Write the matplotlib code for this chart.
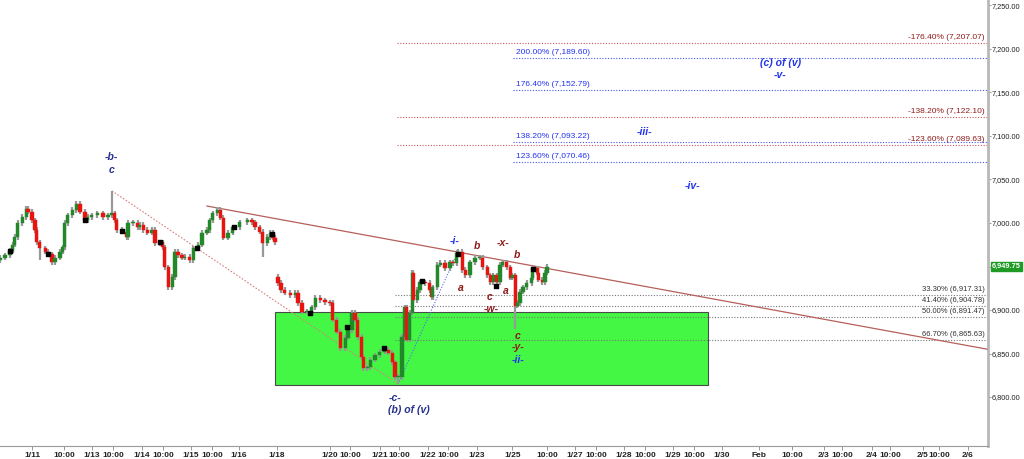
import matplotlib
matplotlib.use("Agg")
import matplotlib.pyplot as plt
from matplotlib.patches import Rectangle
import matplotlib.transforms as mtransforms

plt.rcParams['font.family'] = ['Liberation Sans', 'DejaVu Sans']

# price path, time in trading-session days (1/11 = 0)
t_a = [-0.65, -0.55, -0.45, -0.39, -0.35, -0.29, -0.20, -0.12, -0.08, 0.00, 0.06, 0.10, 0.16,
       0.27, 0.33, 0.41, 0.47, 0.57, 0.63, 0.67, 0.73, 0.82, 0.90, 0.98, 1.08, 1.14, 1.22,
       1.33, 1.45, 1.55, 1.63, 1.69, 1.73, 1.84, 1.94, 1.96, 2.06, 2.16, 2.20, 2.27, 2.35,
       2.45, 2.51, 2.61, 2.67, 2.71, 2.78, 2.86, 2.92, 2.98, 3.06, 3.12, 3.22, 3.29, 3.39,
       3.47, 3.57, 3.63, 3.69, 3.78, 3.84, 3.90, 4.00, 4.10, 4.24, 4.39, 4.49, 4.55, 4.65,
       4.71, 4.80, 4.86, 4.92, 4.96]
close_a = [6960, 6963, 6968, 6975, 6984, 7000, 7007, 7016, 7013, 7003, 6992, 6978, 6971,
           6967, 6964, 6955, 6960, 6967, 6972, 7000, 7009, 7015, 7022, 7013, 7003, 7007, 7009,
           7011, 7007, 7009, 7011, 7003, 6992, 6990, 6984, 7000, 7000, 6995, 6998, 6992, 6989,
           6992, 6977, 6978, 6972, 6949, 6926, 6938, 6967, 6963, 6960, 6961, 6957, 6971, 6975,
           6989, 6992, 7003, 7011, 7015, 7006, 6983, 6989, 6995, 7001, 7003, 7001, 6995, 6990,
           6977, 6984, 6989, 6983, 6978]
open_a = 6957

t_b = [5.02, 5.08, 5.16, 5.27, 5.37, 5.43, 5.51, 5.61, 5.71, 5.78, 5.88, 5.98, 6.08, 6.14,
       6.22, 6.29, 6.39, 6.45, 6.53, 6.59, 6.65, 6.73, 6.76, 6.84, 6.90, 7.00, 7.10, 7.20,
       7.27, 7.35, 7.41, 7.47, 7.55, 7.61, 7.65, 7.71, 7.76, 7.78, 7.86, 7.92, 8.02, 8.12,
       8.16, 8.18, 8.27, 8.33, 8.43, 8.53, 8.59, 8.67, 8.69, 8.78, 8.84, 8.94, 9.04, 9.14,
       9.20, 9.29, 9.35, 9.41, 9.49, 9.55, 9.61, 9.69, 9.76, 9.80, 9.86, 9.90, 9.96, 10.02,
       10.10, 10.20, 10.22, 10.31, 10.33, 10.41, 10.47, 10.51]
close_b = [6931, 6923, 6920, 6917, 6920, 6908, 6898, 6898, 6903, 6914, 6911, 6909, 6908, 6889,
           6875, 6856, 6868, 6877, 6897, 6889, 6869, 6846, 6833, 6834, 6843, 6848, 6852, 6854,
           6851, 6840, 6823, 6823, 6869, 6903, 6866, 6897, 6943, 6911, 6923, 6932, 6931, 6923,
           6915, 6926, 6952, 6954, 6948, 6955, 6954, 6966, 6967, 6946, 6940, 6955, 6960, 6960,
           6949, 6940, 6932, 6940, 6932, 6952, 6955, 6949, 6937, 6940, 6905, 6908, 6921, 6926,
           6931, 6937, 6948, 6943, 6935, 6932, 6943, 6949.75]
open_b = 6938

# wick extremes that stand out
spike_t = [1.63, 0.16, 2.78, 4.71, 7.47, 9.86]
spike_v = [7037, 6957, 6923, 6961, 6815, 6878]

# pivot dots
dot_t = [-0.45, 0.33, 1.08, 1.84, 2.61, 3.37, 4.12, 4.90, 5.67, 6.43, 7.18, 7.96, 8.69, 9.47, 10.22]
dot_v = [6968, 6964, 7003, 6991, 6978, 6971, 6995, 6987, 6897, 6880, 6856, 6933, 6964, 6928, 6947]

last_price = 6949.75

# fibonacci levels
fib_blue = [7189.60, 7152.79, 7093.22, 7070.46]
fib_blue_lbl = ["200.00%", "176.40%", "138.20%", "123.60%"]
fib_red = [7207.07, 7122.10, 7089.63]
fib_red_lbl = ["-176.40%", "-138.20%", "-123.60%"]
fib_grey = [6917.31, 6904.78, 6891.47, 6865.63]
fib_grey_lbl = ["33.30%", "41.40%", "50.00%", "66.70%"]

# zone box and lines
box_t = (4.96, 13.80)
box_v = (6814, 6898)
trend_t = [3.57, 19.49]
trend_v = [7019.5, 6855]
red_dash_t = [1.63, 7.47]
red_dash_v = [7037, 6815]
blue_dash_t = [7.47, 8.69]
blue_dash_v = [6815, 6967]

# x ticks
xtick_pos = [0, 0.65, 1.22, 1.65, 2.24, 2.67, 3.24, 3.67, 4.22, 5.0, 6.08, 6.49, 7.10, 7.49,
             8.08, 8.49, 9.08, 9.80, 10.51, 11.08, 11.51, 12.08, 12.51, 13.08, 13.51, 14.08,
             14.84, 15.51, 16.16, 16.53, 17.14, 17.51, 18.18, 18.51, 19.10]
xtick_lbl = ["1/11", "10:00", "1/13", "10:00", "1/14", "10:00", "1/15", "10:00", "1/16", "1/18",
             "1/20", "10:00", "1/21", "10:00", "1/22", "10:00", "1/23", "1/25", "10:00", "1/27",
             "10:00", "1/28", "10:00", "1/29", "10:00", "1/30", "Feb", "10:00", "2/3", "10:00",
             "2/4", "10:00", "2/5", "10:00", "2/6"]
yticks = [6800, 6850, 6900, 6950, 7000, 7050, 7100, 7150, 7200, 7250]

NAVY = '#26308f'
BLUE = '#2233ee'
DRED = '#8e1b1b'
waves = [
    ("-b-", 1.63, 7076, NAVY), ("c", 1.63, 7061, NAVY),
    ("-c-", 7.41, 6799, NAVY), ("(b) of (v)", 7.69, 6785, NAVY),
    ("-i-", 8.63, 6979, BLUE), ("b", 9.08, 6974, DRED), ("-x-", 9.61, 6977, DRED),
    ("b", 9.90, 6963, DRED), ("a", 8.76, 6925, DRED), ("c", 9.33, 6915, DRED),
    ("a", 9.67, 6922, DRED), ("-w-", 9.37, 6901, DRED), ("c", 9.90, 6870, DRED),
    ("-y-", 9.92, 6857, DRED), ("-ii-", 9.92, 6843, BLUE),
    ("-iii-", 12.51, 7105, BLUE), ("-iv-", 13.49, 7042, BLUE),
    ("(c) of (v)", 15.27, 7184, BLUE), ("-v-", 15.27, 7170, BLUE),
]

fig = plt.figure(figsize=(10.24, 4.59), dpi=100)
ax = fig.add_axes([0, 13 / 459, 988 / 1024, 446 / 459])
xmin, xmax = -0.653, 19.51
ax.set_xlim(xmin, xmax)
ax.set_ylim(6743.7, 7256.3)

# green zone
ax.add_patch(Rectangle((box_t[0], box_v[0]), box_t[1] - box_t[0], box_v[1] - box_v[0],
                       facecolor='#44f744', edgecolor='#4a4a4a', lw=0.8, zorder=1))

# fib lines
for v, l in zip(fib_blue, fib_blue_lbl):
    ax.plot([9.82, xmax], [v, v], color='#4455ee', lw=0.8, ls=(0, (1, 1.5)), zorder=2)
    ax.text(9.88, v + 2.5, f"{l} ({v:,.2f})", color=BLUE, fontsize=6, ha='left', va='bottom')
for v, l in zip(fib_red, fib_red_lbl):
    ax.plot([7.45, xmax], [v, v], color='#cc5555', lw=0.8, ls=(0, (1, 1.5)), zorder=2)
    ax.text(xmax - 0.07, v + 2.5, f"{l} ({v:,.2f})", color=DRED, fontsize=6, ha='right', va='bottom')
for v, l in zip(fib_grey, fib_grey_lbl):
    ax.plot([7.41, xmax], [v, v], color='#777777', lw=0.8, ls=(0, (1, 1.5)), zorder=2)
    ax.text(xmax - 0.07, v + 2.5, f"{l} ({v:,.2f})", color='#333333', fontsize=5.5, ha='right', va='bottom')

# trend lines
ax.plot(trend_t, trend_v, color='#b5605a', lw=0.9, zorder=3)
ax.plot(red_dash_t, red_dash_v, color='#d98080', lw=0.8, ls=(0, (1.5, 1.5)), zorder=3)
ax.plot(blue_dash_t, blue_dash_v, color='#5566ee', lw=0.8, ls=(0, (1, 1.5)), zorder=3)

# candles
w = 0.065
for ts, cs, op in [(t_a, close_a, open_a), (t_b, close_b, open_b)]:
    prev = op
    for t, c in zip(ts, cs):
        o = prev
        hi = max(o, c) + 3
        lo = min(o, c) - 3
        for st, sv in zip(spike_t, spike_v):
            if abs(st - t) < 0.005:
                if sv > hi:
                    hi = sv
                if sv < lo:
                    lo = sv
        ax.plot([t, t], [lo, hi], color='#999999', lw=1.6, zorder=4, solid_capstyle='butt')
        col = '#23882a' if c >= o else '#e8140f'
        body = max(abs(c - o), 1.0)
        ax.add_patch(Rectangle((t - w / 2, min(o, c)), w, body, facecolor=col,
                               edgecolor=col, lw=0.3, zorder=5))
        prev = c

ax.scatter(dot_t, dot_v, marker='s', s=5, color='black', zorder=6)

for txt, t, v, col in waves:
    ax.text(t, v, txt, color=col, fontsize=7.5, fontweight='bold', fontstyle='italic',
            ha='center', va='center', zorder=7)

# axes styling
for s in ['top', 'left']:
    ax.spines[s].set_visible(False)
ax.spines['right'].set_color('#b8b8b8')
ax.spines['right'].set_linewidth(2)
ax.spines['bottom'].set_color('#9a9a9a')
ax.spines['bottom'].set_linewidth(0.8)
ax.yaxis.tick_right()
ax.set_yticks(yticks)
ax.set_yticklabels([f"{v:,.2f}" for v in yticks], fontsize=5.3, color='#222222')
ax.tick_params(axis='y', length=2, width=0.6, color='#888888', pad=0.5)
ax.set_xticks(xtick_pos)
ax.set_xticklabels(xtick_lbl, fontsize=6, color='#222222', fontweight='bold')
ax.tick_params(axis='x', length=3, width=0.6, color='#888888', pad=1.5)

trans = mtransforms.blended_transform_factory(ax.transAxes, ax.transData)
ax.text(1.004, last_price, f"{last_price:,.2f}", transform=trans, fontsize=5.3, color='white',
        fontweight='bold', ha='left', va='center',
        bbox=dict(boxstyle='square,pad=0.15', facecolor='#1f9a25', edgecolor='#1f9a25'),
        clip_on=False)

fig.savefig("out.png", dpi=100)
